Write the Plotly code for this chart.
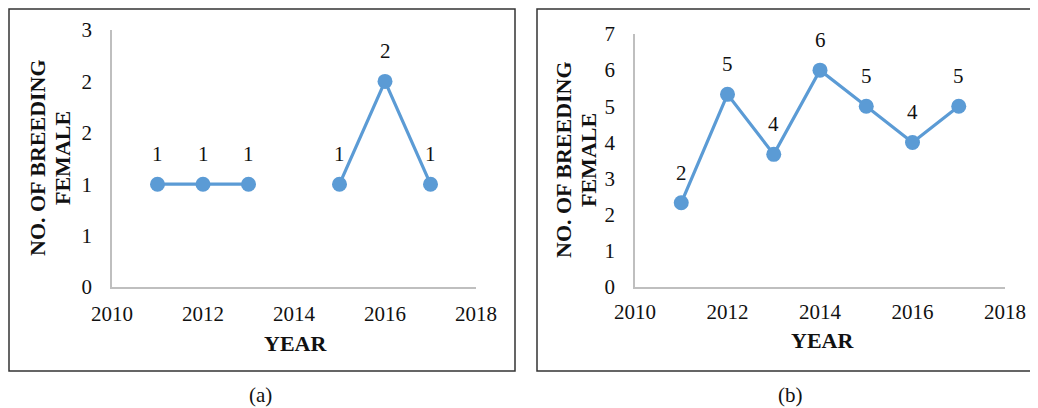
import plotly.graph_objects as go

# page body has an 8px margin, so the figure is 1030x400 drawn at (8, 8)
OFF = 8
W, H = 1038 - OFF, 408 - OFF

years = [2011, 2012, 2013, 2014, 2015, 2016, 2017]
females_a = [1.2, 1.2, 1.2, None, 1.2, 2.4, 1.2]
females_b = [2.33, 5.33, 3.67, 6.0, 5.0, 4.0, 5.0]

x_ticks = [2010, 2012, 2014, 2016, 2018]
y_ticks_a = [0, 0.6, 1.2, 1.8, 2.4, 3.0]
y_ticklabels_a = ["0", "1", "1", "2", "2", "3"]
y_ticks_b = [0, 1, 2, 3, 4, 5, 6, 7]

y_title_lines = ["NO. OF BREEDING", "FEMALE"]
x_title = "YEAR"
captions = ["(a)", "(b)"]

BLUE = "#5B9BD5"
FONT = "Liberation Serif"
TXT = "#111111"


def px(x):
    return (x - OFF) / W


def py(y):
    return 1 - (y - OFF) / H


fig = go.Figure()

for vals, xa, ya in [(females_a, "x", "y"), (females_b, "x2", "y2")]:
    fig.add_trace(go.Scatter(
        x=years, y=vals, xaxis=xa, yaxis=ya, mode="lines+markers",
        line=dict(color=BLUE, width=3.2),
        marker=dict(color=BLUE, size=15),
        connectgaps=False, showlegend=False, hoverinfo="x+y",
    ))

annotations = []
for vals, xr, yr in [(females_a, "x", "y"), (females_b, "x2", "y2")]:
    for yr_, v in zip(years, vals):
        if v is None:
            continue
        annotations.append(dict(
            x=yr_, y=v, xref=xr, yref=yr, text=str(int(round(v))),
            showarrow=False, yshift=30,
            font=dict(family=FONT, size=21, color=TXT),
        ))

axis_common = dict(
    showgrid=False, zeroline=False, showline=True, linecolor="#BFBFBF",
    linewidth=1.5, ticks="", automargin=False,
    tickfont=dict(family=FONT, size=21, color=TXT),
)

fig.update_layout(
    width=W, height=H,
    margin=dict(l=0, r=0, t=0, b=0),
    paper_bgcolor="white", plot_bgcolor="white",
    xaxis=dict(domain=[px(112), px(476)], range=[2010, 2018], tickvals=x_ticks,
               anchor="y", ticklabelstandoff=7, **axis_common),
    yaxis=dict(domain=[py(287), py(30)], range=[0, 3], tickvals=y_ticks_a,
               ticktext=y_ticklabels_a, anchor="x", ticklabelstandoff=14, **axis_common),
    xaxis2=dict(domain=[px(635), px(1005)], range=[2010, 2018], tickvals=x_ticks,
                anchor="y2", ticklabelstandoff=5, **axis_common),
    yaxis2=dict(domain=[py(287), py(34)], range=[0, 7], tickvals=y_ticks_b,
                anchor="x2", ticklabelstandoff=14, **axis_common),
)

title_font = dict(family=FONT, size=22, color=TXT)
# y-axis titles (two lines each)
for x1, x2, yc in [(37, 62, 158), (563, 588, 160)]:
    for xx, line in zip([x1, x2], y_title_lines):
        annotations.append(dict(
            x=px(xx), y=py(yc), xref="paper", yref="paper", text=f"<b>{line}</b>",
            textangle=-90, showarrow=False, xanchor="center", yanchor="middle",
            font=title_font,
        ))
# x-axis titles
for xx, yy in [(295, 343), (822, 340)]:
    annotations.append(dict(
        x=px(xx), y=py(yy), xref="paper", yref="paper", text=f"<b>{x_title}</b>",
        showarrow=False, xanchor="center", yanchor="middle", font=title_font,
    ))
# captions
for xx, cap in zip([260, 790], captions):
    annotations.append(dict(
        x=px(xx), y=py(395), xref="paper", yref="paper", text=cap,
        showarrow=False, xanchor="center", yanchor="middle",
        font=dict(family=FONT, size=21, color=TXT),
    ))

fig.update_layout(annotations=annotations)

# frames around panels (kept just inside the visible figure area)
for x0, x1 in [(9, 515), (537, 1037.5)]:
    fig.add_shape(type="rect", xref="paper", yref="paper",
                  x0=px(x0), x1=px(x1), y0=py(371), y1=py(9),
                  line=dict(color="#333333", width=1.5))

fig.write_html("out.html")
